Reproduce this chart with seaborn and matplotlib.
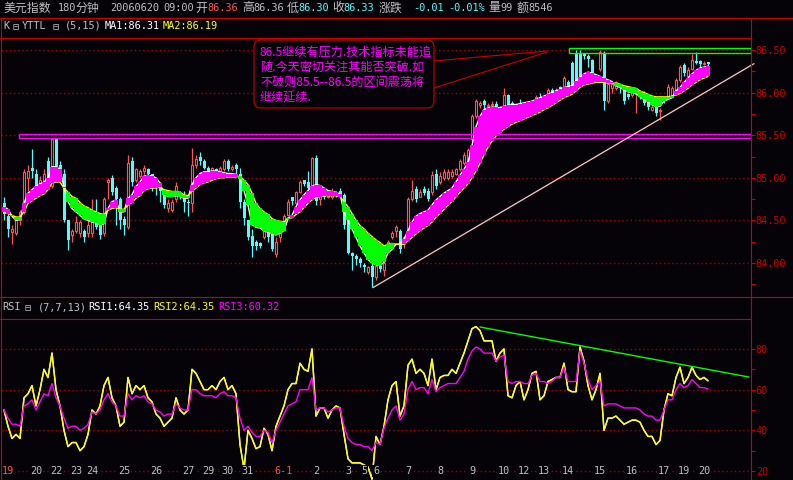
import matplotlib
matplotlib.use('Agg')
import numpy as np
import pandas as pd
import matplotlib.pyplot as plt
import seaborn as sns
from matplotlib.patches import Rectangle, FancyBboxPatch

# USD index, 180-minute bars, 2006-05-19 .. 2006-06-20
opens = [84.70, 84.55, 84.36, 84.35, 84.50, 84.60, 85.00, 85.12, 85.05, 84.90,
         84.95, 85.20, 84.90, 85.45, 85.15, 85.05, 84.50, 84.33, 84.38, 84.35,
         84.38, 84.35, 84.35, 84.60, 84.45, 84.35, 84.95, 85.00, 84.88, 84.75,
         84.52, 84.42, 85.20, 84.97, 85.02, 85.08, 85.10, 85.05, 84.98, 84.90,
         84.83, 84.65, 84.62, 84.75, 84.83, 84.80, 84.72, 84.70, 85.15, 85.25,
         85.20, 85.12, 85.08, 85.10, 85.08, 85.10, 85.20, 85.10, 85.15, 85.05,
         84.72, 84.50, 84.32, 84.25, 84.23, 84.30, 84.35, 84.35, 84.10, 84.30,
         84.45, 84.56, 84.77, 84.70, 84.83, 84.97, 84.95, 84.88, 85.23, 84.75,
         84.80, 84.77, 84.77, 84.83, 84.85, 84.80, 84.50, 84.12, 84.08, 84.05,
         83.98, 83.90, 83.97, 83.83, 83.97, 83.92, 84.18, 84.30, 84.37, 84.37,
         84.22, 84.30, 84.75, 84.87, 84.78, 84.87, 84.85, 84.83, 85.05, 84.95,
         85.00, 85.00, 85.02, 85.05, 85.10, 85.17, 85.20, 85.45, 85.72, 85.86,
         85.90, 85.84, 85.85, 85.87, 85.82, 85.83, 85.97, 85.88, 85.84, 85.88,
         85.85, 85.84, 85.82, 85.88, 85.95, 85.92, 85.95, 86.03, 86.00, 86.07,
         86.03, 86.12, 86.35, 86.47, 86.47, 86.46, 86.43, 86.38, 86.20, 86.28,
         86.47, 85.90, 86.05, 86.05, 86.08, 86.03, 85.98, 85.97, 85.98, 85.98,
         85.99, 85.89, 85.80, 85.83, 85.78, 85.93, 85.95, 85.97, 86.00, 86.15,
         86.32, 86.20, 86.28, 86.37, 86.37, 86.33, 86.36]
highs = [84.78, 84.57, 84.45, 84.52, 84.62, 85.10, 85.15, 85.34, 85.10, 85.02,
         85.10, 85.25, 85.47, 85.47, 85.20, 85.10, 84.50, 84.40, 84.55, 84.50,
         84.40, 84.50, 84.75, 84.75, 84.47, 84.78, 85.00, 85.03, 84.90, 84.77,
         84.55, 85.27, 85.25, 85.12, 85.10, 85.15, 85.12, 85.05, 85.00, 84.95,
         84.85, 84.75, 84.75, 84.95, 84.85, 84.85, 84.75, 85.35, 85.27, 85.30,
         85.22, 85.14, 85.13, 85.12, 85.14, 85.22, 85.22, 85.15, 85.17, 85.12,
         84.75, 84.50, 84.40, 84.27, 84.25, 84.40, 84.37, 84.37, 84.30, 84.40,
         84.58, 84.75, 84.78, 84.85, 84.97, 84.98, 85.08, 85.25, 85.27, 84.82,
         84.82, 84.80, 84.88, 84.85, 84.88, 84.82, 84.55, 84.13, 84.10, 84.07,
         84.00, 83.97, 84.00, 84.00, 83.98, 84.02, 84.27, 84.37, 84.45, 84.40,
         84.32, 84.78, 84.98, 84.90, 84.87, 84.90, 84.88, 85.08, 85.10, 85.07,
         85.10, 85.10, 85.10, 85.12, 85.22, 85.30, 85.35, 85.75, 85.92, 85.90,
         85.92, 85.88, 85.90, 85.90, 85.84, 86.05, 85.98, 85.90, 85.87, 85.92,
         85.88, 85.87, 85.90, 85.97, 86.00, 85.95, 86.05, 86.05, 86.05, 86.08,
         86.20, 86.15, 86.37, 86.50, 86.50, 86.47, 86.45, 86.40, 86.22, 86.50,
         86.49, 86.12, 86.12, 86.14, 86.10, 86.05, 86.00, 86.03, 86.02, 86.00,
         86.02, 85.92, 85.85, 85.85, 85.82, 85.95, 86.10, 86.08, 86.17, 86.32,
         86.35, 86.30, 86.45, 86.48, 86.38, 86.37, 86.36]
lows = [84.50, 84.30, 84.22, 84.33, 84.45, 84.57, 84.85, 85.00, 84.85, 84.88,
        84.90, 84.93, 84.88, 85.10, 85.00, 84.48, 84.15, 84.25, 84.35, 84.30,
        84.25, 84.30, 84.30, 84.40, 84.28, 84.32, 84.75, 84.80, 84.45, 84.40,
        84.33, 84.40, 84.90, 84.95, 85.00, 85.05, 84.95, 84.85, 84.80, 84.72,
        84.65, 84.60, 84.60, 84.72, 84.75, 84.60, 84.55, 84.60, 85.12, 85.15,
        85.10, 85.05, 85.07, 85.06, 85.07, 85.08, 85.08, 85.08, 85.05, 84.65,
        84.45, 84.27, 84.07, 84.15, 84.18, 84.28, 84.25, 84.14, 84.07, 84.25,
        84.43, 84.55, 84.68, 84.68, 84.82, 84.90, 84.85, 84.85, 84.68, 84.68,
        84.75, 84.76, 84.75, 84.78, 84.78, 84.40, 84.10, 83.92, 83.98, 83.95,
        83.90, 83.87, 83.72, 83.80, 83.90, 83.85, 84.15, 84.28, 84.30, 84.12,
        84.18, 84.28, 84.73, 84.72, 84.77, 84.80, 84.73, 84.80, 84.87, 84.93,
        84.98, 84.97, 85.00, 85.03, 85.08, 85.15, 85.18, 85.43, 85.70, 85.82,
        85.80, 85.83, 85.84, 85.80, 85.75, 85.82, 85.80, 85.80, 85.83, 85.83,
        85.82, 85.78, 85.80, 85.86, 85.86, 85.85, 85.93, 85.95, 85.98, 86.00,
        86.02, 86.02, 86.00, 86.05, 86.15, 86.40, 86.30, 86.18, 86.15, 86.25,
        85.80, 85.88, 86.00, 86.03, 86.00, 85.87, 85.93, 85.95, 85.76, 85.93,
        85.85, 85.80, 85.78, 85.72, 85.68, 85.88, 85.93, 85.95, 85.98, 86.12,
        86.20, 86.18, 86.26, 86.33, 86.30, 86.32, 86.30]
closes = [84.57, 84.40, 84.40, 84.50, 84.60, 85.07, 85.08, 85.08, 84.90, 84.98,
          85.05, 84.97, 85.45, 85.12, 85.02, 84.50, 84.27, 84.37, 84.48, 84.48,
          84.30, 84.45, 84.60, 84.42, 84.33, 84.75, 84.98, 84.83, 84.75, 84.50,
          84.45, 85.17, 84.95, 85.10, 85.08, 85.12, 85.04, 84.98, 84.90, 84.85,
          84.68, 84.70, 84.72, 84.90, 84.78, 84.72, 84.70, 85.15, 85.22, 85.20,
          85.12, 85.08, 85.12, 85.08, 85.12, 85.20, 85.10, 85.13, 85.10, 84.72,
          84.53, 84.30, 84.20, 84.20, 84.20, 84.38, 84.30, 84.17, 84.25, 84.37,
          84.55, 84.72, 84.73, 84.83, 84.95, 84.93, 84.88, 85.23, 84.73, 84.80,
          84.77, 84.79, 84.82, 84.80, 84.80, 84.45, 84.12, 84.08, 84.05, 84.00,
          83.95, 83.95, 83.83, 83.97, 83.93, 84.00, 84.25, 84.35, 84.42, 84.17,
          84.30, 84.75, 84.85, 84.75, 84.83, 84.82, 84.75, 85.03, 84.90, 85.02,
          85.07, 85.07, 85.07, 85.10, 85.20, 85.27, 85.33, 85.72, 85.90, 85.88,
          85.85, 85.86, 85.87, 85.83, 85.78, 85.97, 85.83, 85.85, 85.86, 85.85,
          85.87, 85.80, 85.88, 85.95, 85.88, 85.87, 86.03, 85.98, 86.03, 86.03,
          86.17, 86.05, 86.05, 86.07, 86.18, 86.43, 86.40, 86.20, 86.18, 86.48,
          85.90, 86.10, 86.10, 86.12, 86.05, 85.90, 85.95, 86.02, 86.00, 85.95,
          85.88, 85.83, 85.83, 85.76, 85.80, 85.90, 86.07, 86.05, 86.15, 86.30,
          86.23, 86.27, 86.38, 86.35, 86.34, 86.35, 86.33]

# YTTL band edges (MA1 / MA2) as drawn on the chart
ma1 = [84.66, 84.63, 84.55, 84.50, 84.51, 84.70, 84.82, 84.86, 84.90, 84.93,
       84.95, 85.00, 85.13, 85.13, 85.10, 84.89, 84.72, 84.64, 84.60, 84.56,
       84.52, 84.50, 84.48, 84.47, 84.45, 84.46, 84.64, 84.72, 84.74, 84.60,
       84.60, 84.76, 84.80, 84.90, 84.95, 85.02, 85.03, 85.02, 85.00, 84.94,
       84.80, 84.78, 84.78, 84.79, 84.78, 84.76, 84.76, 84.92, 85.00, 85.05,
       85.07, 85.07, 85.08, 85.08, 85.07, 85.06, 85.05, 85.05, 85.04, 84.99,
       84.85, 84.68, 84.45, 84.42, 84.41, 84.38, 84.36, 84.34, 84.33, 84.35,
       84.38, 84.52, 84.56, 84.66, 84.74, 84.80, 84.85, 84.90, 84.92, 84.91,
       84.88, 84.85, 84.84, 84.83, 84.81, 84.60, 84.50, 84.40, 84.30, 84.20,
       84.12, 84.04, 84.00, 83.98, 83.97, 84.01, 84.12, 84.16, 84.22, 84.22,
       84.28, 84.38, 84.48, 84.55, 84.58, 84.60, 84.62, 84.68, 84.74, 84.78,
       84.82, 84.85, 84.88, 84.95, 85.03, 85.10, 85.18, 85.38, 85.60, 85.72,
       85.80, 85.82, 85.83, 85.83, 85.82, 85.84, 85.85, 85.86, 85.86, 85.87,
       85.88, 85.89, 85.90, 85.92, 85.94, 85.96, 85.98, 86.00, 86.02, 86.04,
       86.06, 86.07, 86.08, 86.14, 86.18, 86.22, 86.24, 86.23, 86.21, 86.19,
       86.17, 86.15, 86.13, 86.08, 86.06, 86.03, 86.01, 86.00, 85.99, 85.95,
       85.92, 85.89, 85.86, 85.83, 85.84, 85.90, 85.92, 85.94, 86.02, 86.06,
       86.12, 86.17, 86.22, 86.26, 86.29, 86.30, 86.31]
ma2 = [84.60, 84.58, 84.56, 84.54, 84.54, 84.60, 84.70, 84.73, 84.76, 84.79,
       84.81, 84.86, 84.94, 84.95, 84.95, 84.88, 84.83, 84.78, 84.76, 84.71,
       84.67, 84.65, 84.62, 84.60, 84.58, 84.57, 84.62, 84.64, 84.65, 84.63,
       84.63, 84.68, 84.71, 84.76, 84.79, 84.85, 84.87, 84.88, 84.88, 84.89,
       84.86, 84.85, 84.84, 84.84, 84.83, 84.80, 84.79, 84.84, 84.88, 84.92,
       84.94, 84.95, 84.97, 84.99, 85.00, 85.00, 85.01, 85.01, 85.01, 85.02,
       84.97, 84.92, 84.82, 84.70, 84.64, 84.60, 84.57, 84.52, 84.50, 84.49,
       84.48, 84.53, 84.53, 84.57, 84.60, 84.65, 84.70, 84.74, 84.77, 84.78,
       84.79, 84.79, 84.79, 84.79, 84.78, 84.72, 84.66, 84.58, 84.50, 84.44,
       84.40, 84.35, 84.31, 84.27, 84.24, 84.20, 84.22, 84.23, 84.22, 84.22,
       84.22, 84.26, 84.30, 84.34, 84.38, 84.41, 84.44, 84.48, 84.54, 84.58,
       84.63, 84.68, 84.72, 84.78, 84.83, 84.88, 84.93, 85.00, 85.08, 85.17,
       85.27, 85.36, 85.43, 85.49, 85.53, 85.57, 85.60, 85.63, 85.65, 85.67,
       85.69, 85.71, 85.73, 85.75, 85.77, 85.80, 85.82, 85.85, 85.88, 85.91,
       85.94, 85.96, 85.98, 86.02, 86.06, 86.09, 86.10, 86.11, 86.12, 86.12,
       86.12, 86.11, 86.11, 86.11, 86.10, 86.08, 86.07, 86.06, 86.05, 86.02,
       86.00, 85.98, 85.96, 85.95, 85.95, 85.95, 85.95, 85.96, 85.97, 85.99,
       86.02, 86.05, 86.09, 86.12, 86.15, 86.17, 86.19]

# RSI(7) and RSI(13) as drawn (RSI1 equals RSI2)
rsi2 = [50, 42, 36, 38, 36, 56, 58, 62, 52, 60, 70, 66, 78, 60, 52, 40, 32, 34,
        34, 30, 32, 38, 50, 48, 52, 62, 66, 56, 52, 42, 44, 66, 58, 62, 60, 62,
        56, 54, 48, 46, 42, 44, 46, 56, 50, 48, 50, 70, 68, 64, 60, 60, 62, 60,
        64, 66, 60, 62, 58, 33, 21, 40, 36, 31, 32, 41, 38, 30, 42, 47, 52, 60,
        63, 63, 73, 70, 69, 80, 47, 51, 51, 46, 50, 52, 51, 38, 26, 24, 24, 24,
        23, 22, 16, 37, 33, 42, 55, 62, 64, 47, 52, 72, 75, 68, 70, 68, 62, 75,
        60, 66, 67, 67, 70, 68, 73, 78, 84, 90, 91, 89, 84, 84, 84, 74, 78, 80,
        57, 56, 62, 64, 55, 60, 68, 69, 55, 57, 64, 65, 66, 66, 73, 60, 59, 59,
        81, 74, 62, 55, 60, 68, 40, 46, 46, 47, 45, 43, 44, 45, 45, 44, 40, 37,
        37, 33, 35, 50, 58, 57, 66, 71, 63, 66, 71, 67, 65, 66, 64.35]
rsi3 = [50, 46, 43, 43, 42, 52, 53, 55, 50, 54, 58, 57, 63, 56, 52, 46, 41, 42,
        42, 40, 41, 43, 49, 48, 50, 55, 58, 54, 52, 47, 47, 58, 55, 57, 56, 57,
        54, 53, 50, 49, 47, 48, 48, 53, 51, 50, 50, 60, 60, 58, 57, 57, 57, 56,
        58, 59, 57, 57, 56, 46, 40, 42, 39, 37, 37, 40, 39, 34, 40, 44, 48, 52,
        53, 54, 60, 60, 60, 66, 50, 51, 51, 49, 50, 51, 51, 42, 36, 34, 33, 33,
        32, 32, 30, 34, 33, 41, 46, 50, 52, 45, 48, 60, 64, 60, 61, 61, 58, 65,
        59, 61, 62, 63, 63, 63, 66, 69, 75, 79, 81, 80, 78, 78, 78, 74, 76, 77,
        64, 63, 64, 64, 63, 63, 67, 68, 64, 64, 63, 64, 66, 66, 71, 64, 64, 64,
        79, 73, 65, 60, 62, 64, 52, 53, 53, 53, 52, 51, 51, 51, 51, 50, 48, 47,
        47, 45, 45, 50, 55, 55, 60, 63, 61, 62, 65, 63, 61, 61, 60.32]

day_labels = ["19", "20", "22", "23", "24", "25", "26", "27", "29", "30", "31",
              "6-1", "2", "3", "5", "6", "7", "8", "9", "10", "12", "13", "14",
              "15", "16", "17", "19", "20"]
day_bars = [1, 8, 13, 18, 22, 30, 38, 46, 51, 56, 61, 70, 78, 86, 90, 93, 101,
            109, 117, 125, 130, 135, 141, 149, 157, 165, 170, 175]
red_days = [0, 11]

price_ticks = [84.0, 84.5, 85.0, 85.5, 86.0, 86.5]
rsi_ticks = [20, 40, 60, 80]

support_box = (3.75, 85.47, 85.52)       # magenta band at 85.5
resist_box = (141.25, 86.47, 86.52)      # green band at 86.5
trend_bars = [92.2, 187.5]
trend_prices = [83.71, 86.34]
rsi_trend_bars = [119, 186.25]
rsi_trend_vals = [90.8, 66.2]

note_lines = ["86.5继续有压力.技术指标未能追",
              "随.今天密切关注其能否突破.如",
              "不破则85.5--86.5的区间震荡将",
              "继续延续."]

BG = '#050308'
RED = '#c80000'
GRID = '#a00000'
UPC = '#ff5454'
DNC = '#54fcfc'
MAG = '#ff00ff'
GRN = '#00ff00'
YEL = '#ffff00'
GREY = '#c0c0c0'

sns.set_style("dark", {"axes.facecolor": BG, "figure.facecolor": BG})
plt.rcParams['font.family'] = ['DejaVu Sans Mono', 'Noto Sans CJK SC']
CJK = ['Noto Sans CJK SC', 'DejaVu Sans']
MONO = ['DejaVu Sans Mono', 'DejaVu Sans']

df = pd.DataFrame({"o": opens, "h": highs, "l": lows, "c": closes,
                   "ma1": ma1, "ma2": ma2, "rsi2": rsi2, "rsi3": rsi3})
df["i"] = np.arange(len(df))

W, H = 793, 480
fig = plt.figure(figsize=(W / 100, H / 100), dpi=100, facecolor=BG)
ax = fig.add_axes([1 / W, 1 - 297 / H, 750 / W, 259 / H])
ax2 = fig.add_axes([1 / W, 0, 750 / W, 161 / H])
ov = fig.add_axes([0, 0, 1, 1], zorder=10)
ov.set_xlim(0, W)
ov.set_ylim(H, 0)
ov.axis('off')
ov.patch.set_alpha(0)

for a in (ax, ax2):
    a.set_facecolor(BG)
    for sp in a.spines.values():
        sp.set_visible(False)
    a.set_xlim(-0.75, 186.75)
    a.yaxis.tick_right()
    a.tick_params(axis='x', bottom=False, labelbottom=False)
    a.tick_params(axis='y', which='both', colors=RED, labelcolor=RED,
                  direction='out', length=2.9, width=0.8, pad=0.6, labelsize=7.3)
    a.grid(False)

ax.set_ylim(83.601, 86.641)
ax.set_yticks(price_ticks)
ax.set_yticklabels(["%.2f" % t for t in price_ticks])
ax.set_yticks(np.arange(83.75, 86.6, 0.25), minor=True)
ax2.set_ylim(15.58, 94.74)
ax2.set_yticks(rsi_ticks)
ax2.set_yticklabels([str(t) for t in rsi_ticks])
ax2.set_yticks([30, 50, 70], minor=True)
for t in price_ticks:
    ax.axhline(t, color=GRID, lw=1, ls=(0, (1, 2)), zorder=0.5)
for t in rsi_ticks:
    ax2.axhline(t, color=GRID, lw=1, ls=(0, (1, 2)), zorder=0.5)

# candles: hollow red rising bars, solid cyan falling bars
up = df["c"] >= df["o"]
wick_col = np.where(up, UPC, DNC)
ax.vlines(df["i"], df["l"], df["h"], colors=wick_col, lw=0.9, zorder=1)
body_lo = df[["o", "c"]].min(axis=1)
body_h = (df["c"] - df["o"]).abs().clip(lower=0.006)
ax.bar(df["i"][~up], body_h[~up], bottom=body_lo[~up], width=0.75,
       color=DNC, linewidth=0, zorder=1.5)
ax.bar(df["i"][up], body_h[up], bottom=body_lo[up], width=0.6,
       facecolor=BG, edgecolor=UPC, linewidth=0.8, zorder=1.5)

# MA lines and the YTTL band between them
sns.lineplot(data=df, x="i", y="ma1", color='white', lw=1, ax=ax, zorder=2)
sns.lineplot(data=df, x="i", y="ma2", color=YEL, lw=1, ax=ax, zorder=2)
band_col = np.where(df["ma1"] >= df["ma2"], MAG, GRN)
ax.bar(df["i"], df["ma1"] - df["ma2"], bottom=df["ma2"], width=1.0,
       color=band_col, linewidth=0, zorder=3)

ax.add_patch(Rectangle((support_box[0], support_box[1]), 186.75 - support_box[0],
                       support_box[2] - support_box[1], fill=False, ec=MAG, lw=1, zorder=4))
ax.add_patch(Rectangle((resist_box[0], resist_box[1]), 186.75 - resist_box[0],
                       resist_box[2] - resist_box[1], fill=False, ec=GRN, lw=1, zorder=4))
ax.plot(trend_bars, trend_prices, color='#ffc8c8', lw=0.9, zorder=4, clip_on=False)
ax.set_xlabel("")
ax.set_ylabel("")

# RSI panel
sns.lineplot(data=df, x="i", y="rsi2", color='white', lw=1, ax=ax2, zorder=2)
sns.lineplot(data=df, x="i", y="rsi2", color=YEL, lw=1, ax=ax2, zorder=3)
sns.lineplot(data=df, x="i", y="rsi3", color=MAG, lw=1, ax=ax2, zorder=4)
ax2.plot(rsi_trend_bars, rsi_trend_vals, color=GRN, lw=1, zorder=5)
ax2.set_xlabel("")
ax2.set_ylabel("")
for k, (lab, b) in enumerate(zip(day_labels, day_bars)):
    ax2.text(b, 20, lab, ha='center', va='center', fontsize=7.3, family=MONO,
             color=UPC if k in red_days else GREY, zorder=6,
             bbox=dict(fc=BG, ec='none', pad=0.6))

# frame
frame = [((0, W), (18, 18)), ((0, 751), (38, 38)), ((751, 751), (18, H)),
         ((1, 1), (18, H)), ((0, W), (297, 297)), ((0, 751), (319, 319))]
for xs, ys in frame:
    ov.plot(xs, ys, color=RED, lw=0.8)

# callout
ov.plot([434, 547], [61, 51], color=RED, lw=0.8)
ov.plot([434, 547], [88, 52], color=RED, lw=0.8)
ov.add_patch(FancyBboxPatch((254, 40), 180, 68, boxstyle="round,pad=0,rounding_size=7",
                            ec=RED, fc=BG, lw=0.8))
for k, s in enumerate(note_lines):
    ov.text(260, 52 + 15.3 * k, s, color=MAG, fontsize=8.7, family=CJK,
            ha='left', va='center')

# header texts: (x, y, text, colour, cjk)
head = [(3, 8, "美元指数", GREY, True), (58, 8, "180", GREY, False),
        (75, 8, "分钟", GREY, True), (110, 8, "20060620", GREY, False),
        (163, 8, "09:00", GREY, False), (195, 8, "开", GREY, True),
        (207, 8, "86.36", UPC, False), (242, 8, "高", GREY, True),
        (253, 8, "86.36", GREY, False), (287, 8, "低", GREY, True),
        (298, 8, "86.30", DNC, False), (332, 8, "收", GREY, True),
        (343, 8, "86.33", DNC, False), (379, 8, "涨跌", GREY, True),
        (413, 8, "-0.01", DNC, False), (448, 8, "-0.01%", DNC, False),
        (488, 8, "量", GREY, True), (500, 8, "99", GREY, False),
        (517, 8, "额", GREY, True), (528, 8, "8546", GREY, False),
        (3, 26, "K", GREY, False), (13, 27, "⊟", GREY, False),
        (22, 26, "YTTL", GREY, False), (53, 27, "⊟", GREY, False),
        (65, 26, "(5,15)", GREY, False), (105, 26, "MA1:86.31", 'white', False),
        (163, 26, "MA2:86.19", YEL, False),
        (2, 307, "RSI", GREY, False), (25, 308, "⊟", GREY, False),
        (38, 307, "(7,7,13)", GREY, False), (88, 307, "RSI1:64.35", 'white', False),
        (153, 307, "RSI2:64.35", YEL, False), (218, 307, "RSI3:60.32", MAG, False)]
for x, y, s, col, cjk in head:
    ov.text(x, y, s, color=col, fontsize=8.6 if cjk else 7.4,
            family=CJK if cjk else MONO, ha='left', va='center')

fig.savefig("out.png", dpi=100, facecolor=BG)
